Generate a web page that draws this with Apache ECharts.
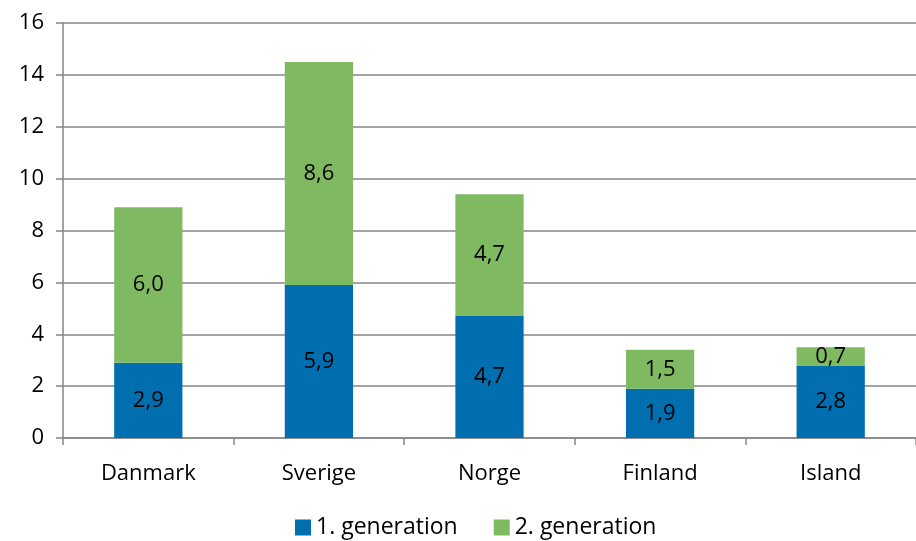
<!DOCTYPE html>
<html>
    <head>
        <meta charset="utf-8"/>
        <script src="https://cdn.jsdelivr.net/npm/echarts@6.0.0/dist/echarts.min.js"></script>
        <style>
            html, body { margin: 0; padding: 0; background: #fff; }
        </style>
    </head>
	<body>
        <div id="main" style="width: 916px;height: 541px;"></div>
		<script>
			// data
			var lande = ['Danmark', 'Sverige', 'Norge', 'Finland', 'Island'];
			var gen1 = [2.9, 5.9, 4.7, 1.9, 2.8];
			var gen2 = [6.0, 8.6, 4.7, 1.5, 0.7];
			var yTicks = [0, 2, 4, 6, 8, 10, 12, 14, 16];

			var font = 'Open Sans';
			var axisGrey = '#868686';

			function komma(p) {
			  return p.value.toFixed(1).replace('.', ',');
			}

			var myChart = echarts.init(document.getElementById('main'));
			myChart.setOption({
			  animation: false,
			  textStyle: { fontFamily: font },
			  grid: { left: 63, right: -12, top: 23, bottom: 103 },
			  legend: {
				bottom: -3,
				left: 290,
				itemWidth: 16,
				itemHeight: 16,
				itemGap: 36,
				icon: 'rect',
				textStyle: { fontSize: 23, color: '#000', fontFamily: font },
				data: ['1. generation', '2. generation']
			  },
			  xAxis: {
				type: 'category',
				data: lande,
				axisLine: { lineStyle: { color: axisGrey, width: 1.5 } },
				axisTick: { show: true, length: 7, lineStyle: { color: axisGrey, width: 1.5 } },
				axisLabel: { fontSize: 22, color: '#000', margin: 25, fontFamily: font }
			  },
			  yAxis: {
				type: 'value',
				min: yTicks[0],
				max: yTicks[yTicks.length - 1],
				interval: 2,
				axisLine: { show: true, lineStyle: { color: axisGrey, width: 1.5 } },
				axisTick: { show: true, length: 7, lineStyle: { color: axisGrey, width: 1.5 } },
				splitLine: { lineStyle: { color: axisGrey, width: 1.5 } },
				axisLabel: { fontSize: 22, color: '#000', margin: 19, fontFamily: font }
			  },
			  series: [
				{
				  name: '1. generation',
				  type: 'bar',
				  stack: 'g',
				  barWidth: '40%',
				  data: gen1,
				  itemStyle: { color: '#006EAF' },
				  label: { show: true, position: 'inside', formatter: komma, fontSize: 22, color: '#000', fontFamily: font }
				},
				{
				  name: '2. generation',
				  type: 'bar',
				  stack: 'g',
				  barWidth: '40%',
				  data: gen2,
				  itemStyle: { color: '#7FBA63' },
				  label: { show: true, position: 'inside', formatter: komma, fontSize: 22, color: '#000', fontFamily: font }
				}
			  ]
			});
		</script>
  </body>
</html>
